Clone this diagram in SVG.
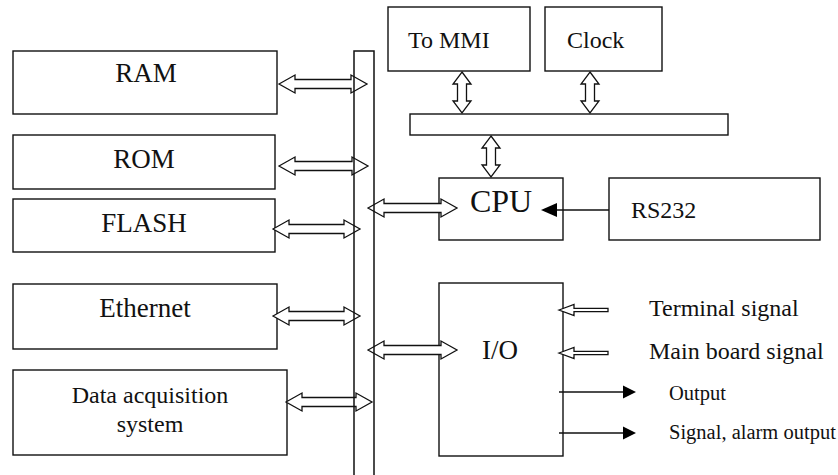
<svg xmlns="http://www.w3.org/2000/svg" width="838" height="475" viewBox="0 0 838 475">
<style>
.box{fill:#fff;stroke:#111;stroke-width:1.4}
.dbl{fill:#fff;stroke:#111;stroke-width:1.3;stroke-linejoin:miter}
.line{fill:none;stroke:#111;stroke-width:1.5}
.head{fill:#000;stroke:none}
text{font-family:'Liberation Serif','Times New Roman','DejaVu Serif',serif;fill:#111}
.big{font-size:27px}
.mid{font-size:24px}
.sm{font-size:20.5px}
</style>
<rect width="838" height="475" fill="#fff"/>
<g id="RAM"><rect class="box" x="13" y="51" width="264" height="63"/><text class="big" x="146" y="82" text-anchor="middle">RAM</text></g>
<g id="ROM"><rect class="box" x="13" y="135" width="262" height="54"/><text class="big" x="144" y="168" text-anchor="middle">ROM</text></g>
<g id="FLASH"><rect class="box" x="13" y="199" width="262" height="53"/><text class="big" x="144" y="232" text-anchor="middle">FLASH</text></g>
<g id="Ethernet"><rect class="box" x="13" y="284" width="264" height="65"/><text class="big" x="145" y="317" text-anchor="middle">Ethernet</text></g>
<g id="DAS"><rect class="box" x="13" y="370" width="274" height="85"/><text class="mid" x="150" y="403" text-anchor="middle">Data acquisition</text><text class="mid" x="150" y="432" text-anchor="middle">system</text></g>
<g id="MMI"><rect class="box" x="388" y="7" width="142" height="64"/><text class="mid" x="408" y="48">To MMI</text></g>
<g id="Clock"><rect class="box" x="545" y="7" width="117" height="64"/><text class="mid" x="567" y="48">Clock</text></g>
<g id="InnerBus"><rect class="box" x="410" y="114" width="318" height="21"/></g>
<g id="CPU"><rect class="box" x="439" y="178" width="124" height="62"/><text font-size="32" x="501" y="212" text-anchor="middle">CPU</text></g>
<g id="RS232"><rect class="box" x="609" y="178" width="211" height="62"/><text class="mid" x="631" y="218">RS232</text></g>
<g id="IO"><rect class="box" x="439" y="283" width="124" height="173"/><text class="big" x="500" y="359" text-anchor="middle">I/O</text></g>
<g id="connectors">
<polygon class="dbl" points="279,84 295,75 295,79.5 351,79.5 351,75 367,84 351,93 351,88.5 295,88.5 295,93"/>
<polygon class="dbl" points="279,166 295,157 295,161.5 352,161.5 352,157 368,166 352,175 352,170.5 295,170.5 295,175"/>
<polygon class="dbl" points="273,229 289,220 289,224.5 344,224.5 344,220 360,229 344,238 344,233.5 289,233.5 289,238"/>
<polygon class="dbl" points="273,316 289,307 289,311.5 344,311.5 344,307 360,316 344,325 344,320.5 289,320.5 289,325"/>
<polygon class="dbl" points="286,402 302,393 302,397.5 356,397.5 356,393 372,402 356,411 356,406.5 302,406.5 302,411"/>
<polygon class="dbl" points="368,208 384,199 384,203.5 441,203.5 441,199 457,208 441,217 441,212.5 384,212.5 384,217"/>
<polygon class="dbl" points="368,350 384,341 384,345.5 441,345.5 441,341 457,350 441,359 441,354.5 384,354.5 384,359"/>
<polygon class="dbl" points="462,72 471,84 466.5,84 466.5,101 471,101 462,113 453,101 457.5,101 457.5,84 453,84"/>
<polygon class="dbl" points="590,72 599,84 594.5,84 594.5,101 599,101 590,113 581,101 585.5,101 585.5,84 581,84"/>
<polygon class="dbl" points="491,136 500,148 495.5,148 495.5,165 500,165 491,177 482,165 486.5,165 486.5,148 482,148"/>
<path class="line" d="M354,475 V51 H374 V475"/>
<line class="line" x1="609" y1="210" x2="555" y2="210"/>
<polygon class="head" points="541,210 557,203 557,217"/>
<polygon class="dbl" points="559,310 574,304.5 574,308.3 608,308.3 608,311.7 574,311.7 574,315.5"/>
<polygon class="dbl" points="559,353 574,347.5 574,351.3 608,351.3 608,354.7 574,354.7 574,358.5"/>
<line class="line" x1="559" y1="392" x2="626" y2="392"/>
<polygon class="head" points="636,392 623,385.5 623,398.5"/>
<line class="line" x1="559" y1="433" x2="626" y2="433"/>
<polygon class="head" points="636,433 623,426.5 623,439.5"/>
</g>
<text class="mid" x="649" y="316">Terminal signal</text>
<text class="mid" x="649" y="359">Main board signal</text>
<text class="sm" x="669" y="400">Output</text>
<text class="sm" x="669" y="439">Signal, alarm output</text>
</svg>
